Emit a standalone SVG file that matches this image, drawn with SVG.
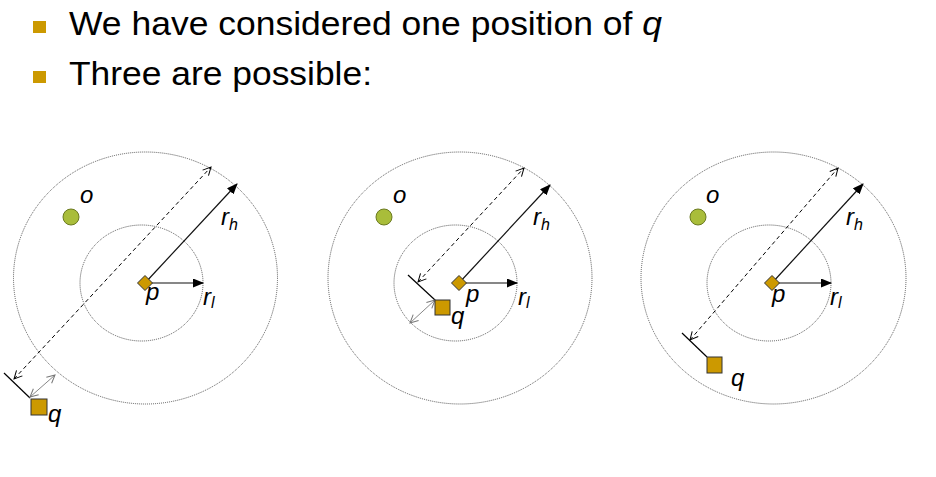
<svg xmlns="http://www.w3.org/2000/svg" width="936" height="477" viewBox="0 0 936 477">
<defs>
<style>
.title{font-family:"Liberation Sans",Arial,sans-serif;font-size:34px;fill:#000}
.lbl{font-family:"Liberation Sans",Arial,sans-serif;font-style:italic;font-size:24px;fill:#000}
.sub{font-family:"Liberation Sans",Arial,sans-serif;font-style:italic;font-size:16px;fill:#000}
.ring{fill:none;stroke:#555;stroke-width:1;stroke-dasharray:1 1}
.solid{fill:none;stroke:#111;stroke-width:1.2;marker-end:url(#fillhead)}
.dash{fill:none;stroke:#000;stroke-width:1;stroke-dasharray:4 3;marker-start:url(#openhead);marker-end:url(#openhead)}
.tick{fill:none;stroke:#000;stroke-width:1.2}
.gap{fill:none;stroke:#888;stroke-width:1;marker-start:url(#greyhead);marker-end:url(#greyhead)}
.gold{fill:#CC9900;stroke:#333;stroke-width:1}
.obj{fill:#A9BD3A;stroke:#6B7A20;stroke-width:1}
</style>
<marker id="fillhead" markerUnits="userSpaceOnUse" markerWidth="11" markerHeight="9" refX="10" refY="4.5" orient="auto">
<path d="M0,0 L11,4.5 L0,9 z" fill="#000"/>
</marker>
<marker id="openhead" markerUnits="userSpaceOnUse" markerWidth="11" markerHeight="11" refX="9" refY="5" orient="auto-start-reverse">
<path d="M1,1 L9,5 L1,9" fill="none" stroke="#000" stroke-width="1"/>
</marker>
<marker id="greyhead" markerUnits="userSpaceOnUse" markerWidth="11" markerHeight="11" refX="9" refY="5" orient="auto-start-reverse">
<path d="M1,1 L9,5 L1,9" fill="none" stroke="#777" stroke-width="1"/>
</marker>
</defs>
<rect width="936" height="477" fill="#fff"/>

<g id="bullets">
<rect x="33" y="21" width="13" height="12" fill="#CC9900"/>
<text class="title" x="69" y="35" textLength="593" lengthAdjust="spacingAndGlyphs">We have considered one position of <tspan font-style="italic">q</tspan></text>
<rect x="33" y="71" width="13" height="12" fill="#CC9900"/>
<text class="title" x="69" y="85" textLength="303" lengthAdjust="spacingAndGlyphs">Three are possible:</text>
</g>

<!-- Panel 1 -->
<g id="panel1-rings">
<ellipse class="ring" cx="145.5" cy="278" rx="132" ry="126"/>
<ellipse class="ring" cx="141.5" cy="283" rx="61.5" ry="58"/>
</g>
<g id="panel1-connectors">
<line class="solid" x1="145" y1="283" x2="237" y2="184"/>
<line class="solid" x1="145" y1="283" x2="203" y2="283"/>
<line class="dash" x1="14" y1="379" x2="211" y2="167"/>
<line class="tick" x1="4" y1="373" x2="30" y2="398"/>
<line class="gap" x1="30" y1="397" x2="55" y2="375"/>
</g>
<g id="panel1-p"><path class="gold" d="M145,275.5 L152.5,283 L145,290.5 L137.5,283 z"/><text class="lbl" x="146" y="300">p</text></g>
<g id="panel1-q"><rect class="gold" x="31" y="399" width="16" height="16"/><text class="lbl" x="48" y="422">q</text></g>
<g id="panel1-o"><circle class="obj" cx="71" cy="217" r="8"/><text class="lbl" x="80" y="203">o</text></g>
<g id="panel1-rh"><text class="lbl" x="221" y="225">r<tspan class="sub" dy="5">h</tspan></text></g>
<g id="panel1-rl"><text class="lbl" x="203" y="305">r<tspan class="sub" dy="3">l</tspan></text></g>

<!-- Panel 2 -->
<g id="panel2-rings">
<ellipse class="ring" cx="460" cy="278" rx="132" ry="126"/>
<ellipse class="ring" cx="455.5" cy="283" rx="61.5" ry="58"/>
</g>
<g id="panel2-connectors">
<line class="solid" x1="459" y1="283" x2="550" y2="185"/>
<line class="solid" x1="459" y1="283" x2="517" y2="283"/>
<line class="dash" x1="418" y1="282" x2="524" y2="168"/>
<line class="tick" x1="408" y1="275" x2="435" y2="300"/>
<line class="gap" x1="435" y1="300" x2="410" y2="323"/>
</g>
<g id="panel2-p"><path class="gold" d="M459,275.5 L466.5,283 L459,290.5 L451.5,283 z"/><text class="lbl" x="466" y="302">p</text></g>
<g id="panel2-q"><rect class="gold" x="435" y="300" width="15" height="15"/><text class="lbl" x="451" y="324">q</text></g>
<g id="panel2-o"><circle class="obj" cx="384" cy="217" r="8"/><text class="lbl" x="393" y="203">o</text></g>
<g id="panel2-rh"><text class="lbl" x="533" y="225">r<tspan class="sub" dy="5">h</tspan></text></g>
<g id="panel2-rl"><text class="lbl" x="518" y="305">r<tspan class="sub" dy="3">l</tspan></text></g>

<!-- Panel 3 -->
<g id="panel3-rings">
<ellipse class="ring" cx="773.5" cy="278" rx="132.5" ry="126"/>
<ellipse class="ring" cx="769" cy="283" rx="62" ry="58"/>
</g>
<g id="panel3-connectors">
<line class="solid" x1="772" y1="283" x2="863" y2="184"/>
<line class="solid" x1="772" y1="283" x2="831" y2="283"/>
<line class="dash" x1="690" y1="340" x2="838" y2="168"/>
<line class="tick" x1="682" y1="333" x2="707" y2="357"/>
</g>
<g id="panel3-p"><path class="gold" d="M772,275.5 L779.5,283 L772,290.5 L764.5,283 z"/><text class="lbl" x="772" y="302">p</text></g>
<g id="panel3-q"><rect class="gold" x="707" y="357" width="15" height="16"/><text class="lbl" x="731" y="386">q</text></g>
<g id="panel3-o"><circle class="obj" cx="698" cy="217" r="8"/><text class="lbl" x="706" y="203">o</text></g>
<g id="panel3-rh"><text class="lbl" x="846" y="225">r<tspan class="sub" dy="5">h</tspan></text></g>
<g id="panel3-rl"><text class="lbl" x="830" y="305">r<tspan class="sub" dy="3">l</tspan></text></g>
</svg>
